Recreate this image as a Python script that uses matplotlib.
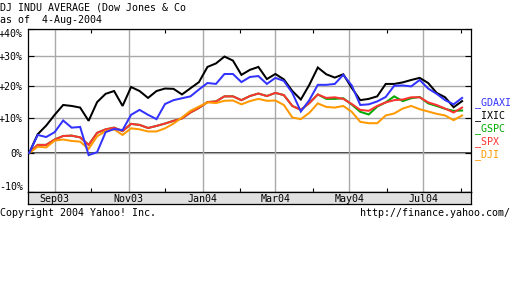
import matplotlib
matplotlib.use("Agg")
import matplotlib.pyplot as plt
import matplotlib.dates as mdates
import numpy as np
import pandas as pd

# ---------------- data (percent change since start) ----------------
dates = pd.date_range("2003-08-11", periods=52, freq="7D")

gdaxi = [0, 5.0, 4.4, 5.8, 9.2, 7.1, 7.3, -0.6, 0.2, 5.8, 6.7, 6.4, 10.9, 12.4, 10.9,
         9.6, 14.2, 15.4, 16.0, 16.6, 18.8, 20.9, 20.6, 23.9, 23.9, 21.2, 22.9, 23.2,
         20.6, 22.6, 21.6, 17.7, 11.9, 15.4, 20.3, 20.3, 20.6, 23.6, 20.1, 13.9, 14.1,
         15.0, 16.4, 20.0, 20.1, 19.8, 21.9, 19.1, 17.4, 15.4, 14.1, 16.1]
ixic = [0, 5.2, 7.7, 10.9, 13.9, 13.6, 13.1, 9.1, 14.8, 17.4, 18.3, 13.6, 19.6, 18.3,
        16.1, 18.3, 19.1, 19.0, 17.2, 19.2, 21.2, 26.3, 27.5, 29.9, 28.5, 23.6, 25.3,
        26.3, 22.2, 23.9, 22.1, 18.3, 15.6, 20.3, 26.1, 23.8, 22.7, 23.8, 19.3, 15.4,
        15.8, 16.6, 20.6, 20.6, 21.1, 21.9, 22.6, 20.9, 17.7, 16.3, 13.2, 15.1]
gspc = [0, 2.2, 2.2, 3.7, 4.7, 4.8, 4.3, 2.2, 5.6, 6.6, 7.1, 6.1, 8.2, 7.9, 7.0, 7.6,
        8.3, 9.1, 9.8, 11.6, 13.0, 14.8, 15.0, 16.6, 16.6, 15.4, 16.7, 17.5, 16.7, 17.7,
        17.0, 13.6, 12.4, 14.5, 17.2, 15.8, 15.8, 16.0, 14.0, 11.8, 11.0, 13.4, 14.7,
        16.6, 15.1, 16.0, 16.4, 14.4, 13.6, 12.7, 12.1, 12.2]
spx = [0, 2.2, 2.2, 3.7, 4.7, 4.8, 4.3, 2.2, 5.6, 6.6, 7.1, 6.1, 8.2, 7.9, 7.0, 7.6,
       8.3, 9.1, 9.8, 11.6, 13.0, 14.8, 15.0, 16.6, 16.6, 15.4, 16.7, 17.5, 16.7, 17.7,
       17.0, 13.6, 12.4, 14.5, 17.2, 16.1, 16.3, 15.8, 14.2, 12.4, 12.1, 13.6, 14.7,
       15.4, 15.6, 16.3, 16.3, 14.7, 13.9, 12.8, 11.6, 13.1]
dji = [0, 1.7, 1.5, 3.4, 3.7, 3.3, 3.1, 1.1, 4.6, 6.1, 6.6, 5.0, 6.9, 6.6, 6.0, 6.0,
       6.9, 8.3, 10.1, 12.1, 13.4, 14.7, 14.5, 15.2, 15.3, 14.1, 15.1, 15.8, 15.2, 15.3,
       13.9, 10.1, 9.6, 11.5, 14.4, 13.3, 13.1, 13.6, 11.8, 8.8, 8.4, 8.4, 10.7, 11.3,
       12.8, 13.6, 12.6, 11.9, 11.2, 10.7, 9.3, 10.7]

series_names = ["GDAXI", "IXIC", "GSPC", "SPX", "DJI"]
series_colors = ["#3333ff", "#000000", "#00aa00", "#ff3333", "#ff9900"]
series_values = [gdaxi, ixic, gspc, spx, dji]
draw_order = ["GSPC", "SPX", "DJI", "IXIC", "GDAXI"]

y_ticks = [-10, 0, 10, 20, 30, 40]
y_labels = ["-10%", "0%", "+10%", "+20%", "+30%", "+40%"]
month_labels = ["Sep03", "Nov03", "Jan04", "Mar04", "May04", "Jul04"]
month_dates = pd.to_datetime(["2003-09-01", "2003-11-01", "2004-01-01",
                              "2004-03-01", "2004-05-01", "2004-07-01"])

title_lines = ["DJ INDU AVERAGE (Dow Jones & Co", "as of  4-Aug-2004"]
footer_left = "Copyright 2004 Yahoo! Inc."
footer_right = "http://finance.yahoo.com/"

# ---------------- figure ----------------
W, H = 512, 288
FONT = "DejaVu Sans Mono"
FS = 7.2
fig = plt.figure(figsize=(W / 100, H / 100), dpi=100)
fig.patch.set_facecolor("white")

x0, x1 = 27.7, 471.3
y_top, y_bot, band_bot = 29.0, 191.7, 204.3
ax = fig.add_axes([x0 / W, 1 - y_bot / H, (x1 - x0) / W, (y_bot - y_top) / H])

fwd = lambda p: np.log1p(np.asarray(p, dtype=float) / 100.0)
inv = lambda v: 100.0 * np.expm1(np.asarray(v, dtype=float))
ax.set_yscale("function", functions=(fwd, inv))
ax.set_ylim(-10, 40)
xlim = (pd.Timestamp("2003-08-09 18:00"), pd.Timestamp("2004-08-09 14:00"))
ax.set_xlim(*xlim)

# grid
ax.set_yticks(y_ticks)
ax.set_yticklabels(y_labels, fontfamily=FONT, fontsize=FS)
ax.set_xticks(month_dates)
ax.set_xticklabels([])
ax.xaxis.set_minor_locator(mdates.MonthLocator())
ax.grid(True, which="major", axis="both", color="#a9a9a9", lw=1.0, zorder=0)
ax.axhline(0, color="black", lw=1.1, zorder=1)
ax.tick_params(axis="x", which="major", length=0)
ax.tick_params(axis="x", which="minor", direction="in", length=3, width=0.8,
               top=True, bottom=True, color="black")
ax.tick_params(axis="y", which="major", direction="in", length=4, width=0.8,
               left=True, right=True, pad=3.5)
ax.tick_params(axis="y", which="minor", length=0)
tl = ax.get_yticklabels()
tl[0].set_va("bottom")
tl[-1].set_va("top")
for s in ax.spines.values():
    s.set_linewidth(0.9)
    s.set_color("black")

for name in draw_order:
    i = series_names.index(name)
    ax.plot(dates, series_values[i], color=series_colors[i], lw=1.45, zorder=3,
            solid_joinstyle="miter")

# date band
axb = fig.add_axes([x0 / W, 1 - band_bot / H, (x1 - x0) / W, (band_bot - y_bot) / H])
axb.set_facecolor("#e0e0e0")
axb.set_xlim(*xlim)
axb.set_ylim(0, 1)
axb.set_xticks([])
axb.set_yticks([])
for s in axb.spines.values():
    s.set_linewidth(0.9)
for d, lab in zip(month_dates, month_labels):
    axb.text(d, 0.45, lab, ha="center", va="center", fontfamily=FONT, fontsize=FS)

# legend
leg_y = [103, 116, 129, 142, 155]
for name, col, yy in zip(series_names, series_colors, leg_y):
    fig.text(475 / W, 1 - yy / H, "_" + name, color=col, ha="left", va="center",
             fontfamily=FONT, fontsize=FS)

# title & footer
fig.text(0.5 / W, 1 - 7 / H, title_lines[0], ha="left", va="center",
         fontfamily=FONT, fontsize=FS)
fig.text(0.5 / W, 1 - 20 / H, title_lines[1], ha="left", va="center",
         fontfamily=FONT, fontsize=FS)
fig.text(0.5 / W, 1 - 213 / H, footer_left, ha="left", va="center",
         fontfamily=FONT, fontsize=FS)
fig.text(510 / W, 1 - 213 / H, footer_right, ha="right", va="center",
         fontfamily=FONT, fontsize=FS)

fig.savefig("out.png", dpi=100, facecolor="white")
